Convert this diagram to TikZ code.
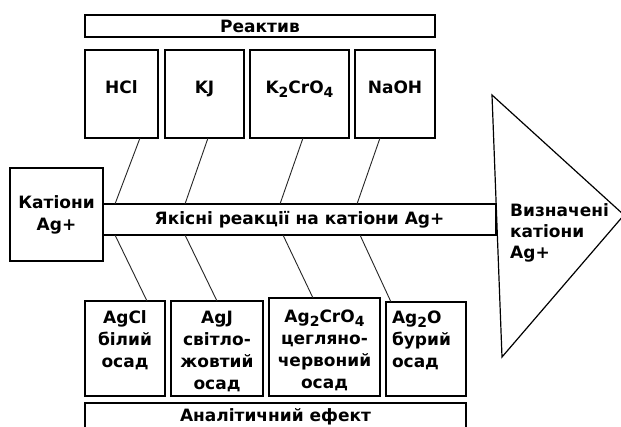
\documentclass[tikz,border=0pt]{standalone}
\usepackage{fontspec}
\setmainfont{DejaVu Sans}
\usetikzlibrary{positioning,calc}
\newcommand{\chemsub}[1]{\raisebox{-0.45ex}{\fontsize{14}{14}\selectfont #1}}

\begin{document}
\begin{tikzpicture}[x=1pt, y=-1pt,
    box/.style={rectangle, draw, line width=1.2pt, inner sep=0pt, outer sep=0pt, align=center, font=\bfseries\fontsize{17}{22}\selectfont},
    cell/.style={box, text height=43pt, text depth=45pt},
    effectcell/.style={box, text height=22pt, text depth=73pt},
    link/.style={line width=0.9pt, black!85}
]
\clip (0,0) rectangle (621,426);
\fill[white] (0,0) rectangle (621,426);

% reagents
\node[box, anchor=north west, minimum width=350pt, minimum height=22pt] (reagent) at (85,15) {Реактив};
\node[cell, anchor=north west, text width=73pt] (hcl) at (85,50) {HCl};
\node[cell, right=7pt of hcl, text width=79pt] (kj) {KJ};
\node[cell, right=6pt of kj, text width=99pt] (kcro) {K\chemsub{2}CrO\chemsub{4}};
\node[cell, right=6pt of kcro, text width=80pt] (naoh) {NaOH};

% spine
\node[box, anchor=north west, minimum width=93pt, minimum height=93pt] (cation) at (10,168) {Катіони\\Ag+};
\node[box, anchor=north west, minimum width=393pt, minimum height=31pt] (bar) at ($(cation.north east)+(0,36)$) {Якісні реакції на катіони Ag+};

% head
\coordinate (headtop) at (492,95);
\coordinate (headtip) at (624,215);
\coordinate (headbot) at (502,357);
\draw[line width=1.2pt] (headtop) -- (headtip) -- (headbot) -- cycle;
\node[anchor=west, align=left, inner sep=0pt, font=\bfseries\fontsize{17}{21}\selectfont] (result) at (510,233) {Визначені\\катіони\\Ag+};

% effects
\node[effectcell, anchor=south west, text width=80pt] (agcl) at (85,396) {AgCl\\білий\\осад};
\node[effectcell, right=6pt of agcl.south east, anchor=south west, text width=92pt] (agj) {AgJ\\світло-\\жовтий\\осад};
\node[effectcell, right=6pt of agj.south east, anchor=south west, text width=111pt, text height=24pt, text depth=74pt] (agcro) {Ag\chemsub{2}CrO\chemsub{4}\\цегляно-\\червоний\\осад};
\node[effectcell, right=6pt of agcro.south east, anchor=south west, text width=68pt, inner xsep=6pt, align=left, text height=21pt, text depth=73pt] (ago) {Ag\chemsub{2}O\\бурий\\осад};
\node[box, anchor=north west, minimum width=381pt, minimum height=28pt] (effect) at (85,403) {Аналітичний ефект};

% bones
\draw[link] ($(hcl.south west)+(55,0)$) -- ($(bar.north west)+(12,0)$);
\draw[link] ($(kj.south west)+(43,0)$) -- ($(bar.north west)+(82,0)$);
\draw[link] ($(kcro.south west)+(53,0)$) -- ($(bar.north west)+(177,0)$);
\draw[link] ($(naoh.south west)+(25,0)$) -- ($(bar.north west)+(254,0)$);
\draw[link] ($(bar.south west)+(12,0)$) -- ($(agcl.north west)+(62,0)$);
\draw[link] ($(bar.south west)+(82,0)$) -- ($(agj.north west)+(46,0)$);
\draw[link] ($(bar.south west)+(180,0)$) -- ($(agcro.north west)+(44,0)$);
\draw[link] ($(bar.south west)+(257,0)$) -- ($(ago.north west)+(5,0)$);
\end{tikzpicture}
\end{document}
